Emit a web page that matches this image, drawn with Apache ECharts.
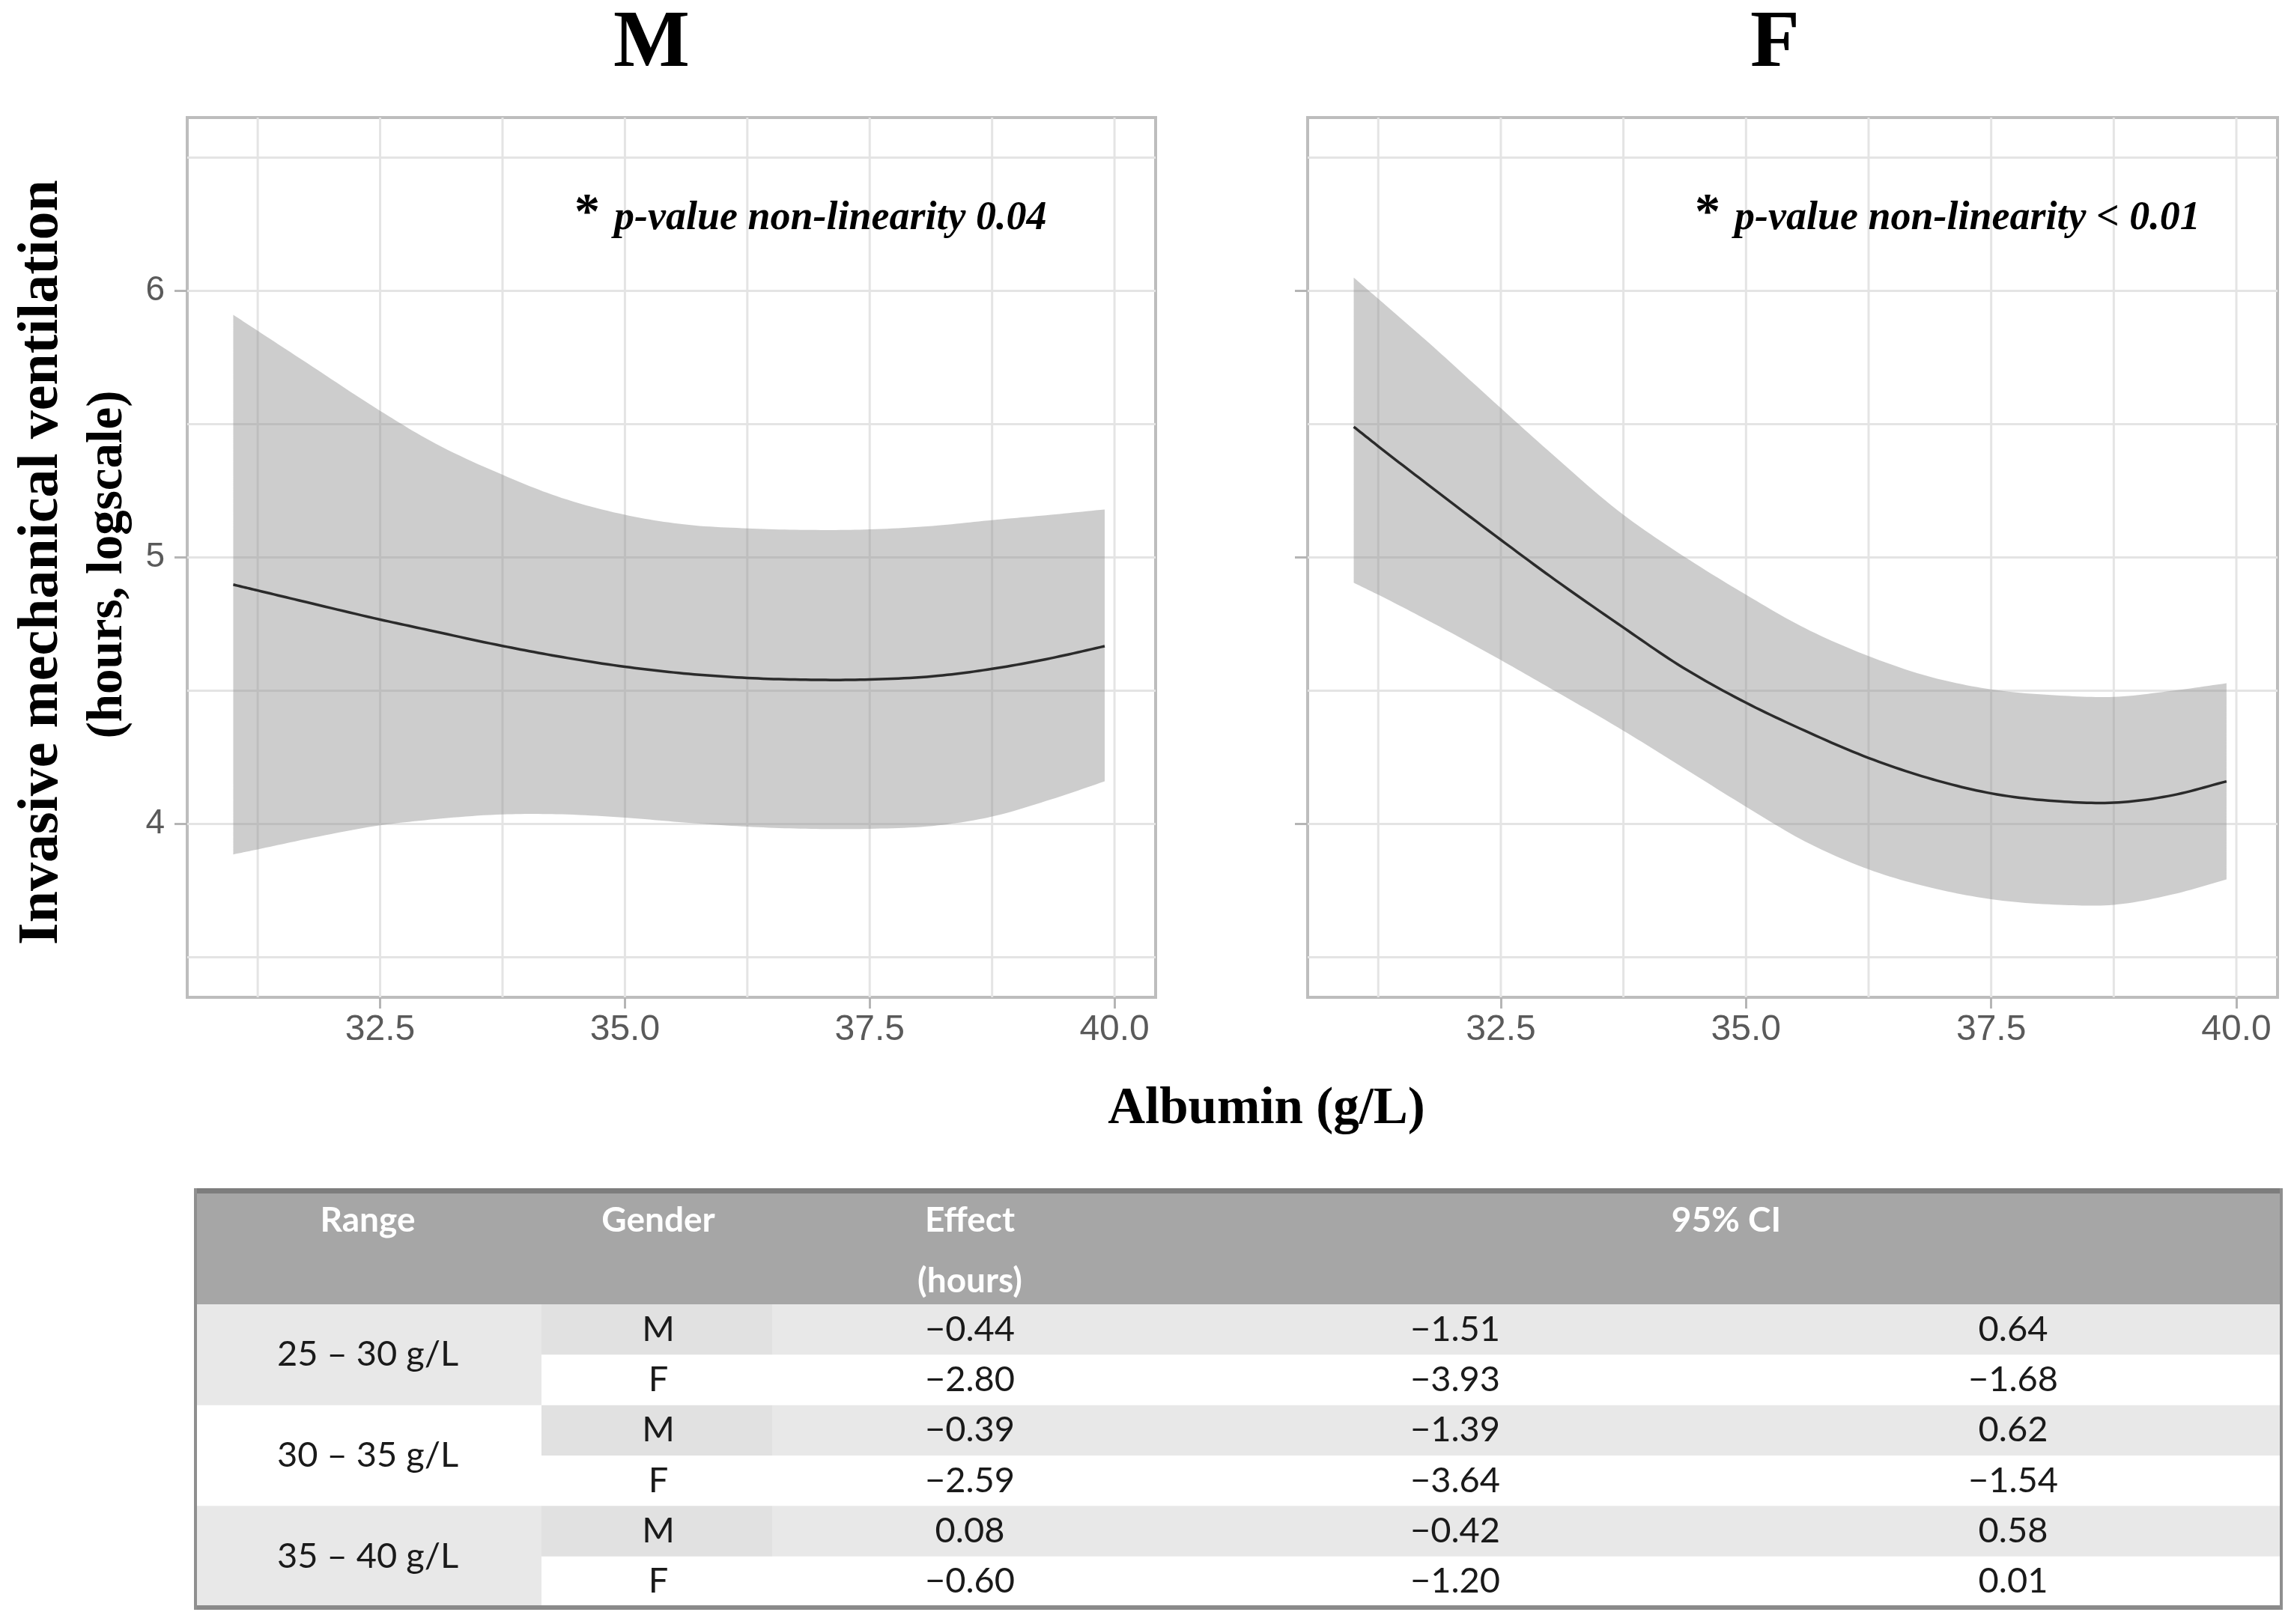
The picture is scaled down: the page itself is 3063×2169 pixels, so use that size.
<!DOCTYPE html>
<html><head><meta charset="utf-8">
<script src="https://cdn.jsdelivr.net/npm/echarts@6/dist/echarts.min.js"></script>
<style>html,body{margin:0;padding:0;background:#fff}#c{width:3063px;height:2169px}</style>
</head><body><div id="c"></div>
<script>
// ---------------- data ----------------
const albumin = [31.0, 31.25, 31.75, 32.5, 33.0, 33.75, 34.3, 35.0, 35.6, 36.25, 36.9, 37.5, 38.2, 38.75, 39.35, 39.9];
const mFit   = [4.898, 4.876, 4.832, 4.767, 4.727, 4.668, 4.630, 4.590, 4.565, 4.548, 4.541, 4.542, 4.556, 4.582, 4.622, 4.667];
const mLower = [3.886, 3.905, 3.944, 3.995, 4.016, 4.036, 4.037, 4.024, 4.006, 3.990, 3.982, 3.982, 3.995, 4.028, 4.092, 4.160];
const mUpper = [5.91, 5.85, 5.73, 5.55, 5.44, 5.31, 5.23, 5.16, 5.124, 5.109, 5.103, 5.105, 5.12, 5.14, 5.16, 5.18];
const fFit   = [5.49, 5.417, 5.275, 5.066, 4.930, 4.737, 4.600, 4.455, 4.350, 4.248, 4.168, 4.115, 4.085, 4.080, 4.108, 4.160];
const fLower = [4.905, 4.86, 4.765, 4.615, 4.51, 4.35, 4.225, 4.065, 3.935, 3.83, 3.76, 3.718, 3.697, 3.697, 3.736, 3.792];
const fUpper = [6.05, 5.97, 5.81, 5.56, 5.395, 5.16, 5.02, 4.86, 4.735, 4.63, 4.55, 4.505, 4.482, 4.477, 4.50, 4.528];

const xTicks = [32.5, 35, 37.5, 40];
const xMinorGrid = [31.25, 33.75, 36.25, 38.75];
const yTicks = [4, 5, 6];
const yMinorGrid = [3.5, 4.5, 5.5, 6.5];

const panelTitles = ['M', 'F'];
const pLabels = ['p-value non-linearity 0.04', 'p-value non-linearity < 0.01'];
const yTitle1 = 'Invasive mechanical ventilation';
const yTitle2 = '(hours, logscale)';
const xTitle = 'Albumin (g/L)';

// table data
const tblHeaders = ['Range', 'Gender', 'Effect', '(hours)', '95% CI'];
const tblRanges = ['25 – 30 g/L', '30 – 35 g/L', '35 – 40 g/L'];
const tblGender = ['M', 'F', 'M', 'F', 'M', 'F'];
const tblEffect = [-0.44, -2.80, -0.39, -2.59, 0.08, -0.60];
const tblCiLow  = [-1.51, -3.93, -1.39, -3.64, -0.42, -1.20];
const tblCiHigh = [0.64, -1.68, 0.62, -1.54, 0.58, 0.01];

// ---------------- layout ----------------
const X_MIN = 30.53, X_MAX = 40.42, Y_MIN = 3.35, Y_MAX = 6.65;
const GRIDS = [{left: 250, top: 157, width: 1293, height: 1175}, {left: 1746, top: 157, width: 1295, height: 1175}];
const SERIF = "'Liberation Serif', 'Times New Roman', serif";
const SANS = "'Liberation Sans', Arial, sans-serif";
const TFONT = "Lato, 'Open Sans', sans-serif";
const BAND = 'rgba(145,145,145,0.45)';
const GRIDCOL = '#e4e4e4';

const chart = echarts.init(document.getElementById('c'), null, {renderer: 'canvas'});

// smooth rendering of a pixel polyline (cubic Hermite in x)
function smoothPx(pts, steps) {
  const n = pts.length, out = [];
  const m = pts.map((p, i) => {
    if (i === 0) return (pts[1][1] - p[1]) / (pts[1][0] - p[0]);
    if (i === n - 1) return (p[1] - pts[i - 1][1]) / (p[0] - pts[i - 1][0]);
    const a = (p[1] - pts[i - 1][1]) / (p[0] - pts[i - 1][0]);
    const b = (pts[i + 1][1] - p[1]) / (pts[i + 1][0] - p[0]);
    const ha = p[0] - pts[i - 1][0], hb = pts[i + 1][0] - p[0];
    return (a * hb + b * ha) / (ha + hb);
  });
  for (let i = 0; i < n - 1; i++) {
    const p = pts[i], q = pts[i + 1], h = q[0] - p[0];
    for (let s = 0; s < steps; s++) {
      const t = s / steps, t2 = t * t, t3 = t2 * t;
      const h00 = 2 * t3 - 3 * t2 + 1, h10 = t3 - 2 * t2 + t, h01 = -2 * t3 + 3 * t2, h11 = t3 - t2;
      out.push([p[0] + t * h, h00 * p[1] + h10 * h * m[i] + h01 * q[1] + h11 * h * m[i + 1]]);
    }
  }
  out.push(pts[n - 1].slice());
  return out;
}

function gridSeries(gi) {
  const data = yMinorGrid.concat(yTicks).map(v => [0, v]).concat(xMinorGrid.concat(xTicks).map(v => [1, v]));
  return {
    type: 'custom', xAxisIndex: gi, yAxisIndex: gi, silent: true, z: 1, clip: false,
    data: data,
    renderItem: (params, api) => {
      const o = api.value(0), v = api.value(1);
      let p1, p2;
      if (o === 0) { p1 = api.coord([X_MIN, v]); p2 = api.coord([X_MAX, v]); }
      else { p1 = api.coord([v, Y_MIN]); p2 = api.coord([v, Y_MAX]); }
      return {type: 'line', shape: {x1: p1[0], y1: p1[1], x2: p2[0], y2: p2[1]},
        style: {stroke: GRIDCOL, lineWidth: 3}};
    }
  };
}
function bandSeries(gi, lower, upper) {
  return {
    type: 'custom', xAxisIndex: gi, yAxisIndex: gi, silent: true, z: 2,
    data: [[albumin[0], lower[0]]],
    renderItem: (params, api) => {
      const up = smoothPx(albumin.map((x, i) => api.coord([x, upper[i]])), 12);
      const lo = smoothPx(albumin.map((x, i) => api.coord([x, lower[i]])), 12);
      return {type: 'polygon', shape: {points: up.concat(lo.reverse())}, style: {fill: BAND}};
    }
  };
}
function lineSeries(gi, fit) {
  return {
    type: 'custom', xAxisIndex: gi, yAxisIndex: gi, silent: true, z: 3,
    data: [[albumin[0], fit[0]]],
    renderItem: (params, api) => {
      const pts = smoothPx(albumin.map((x, i) => api.coord([x, fit[i]])), 12);
      return {type: 'polyline', shape: {points: pts}, style: {stroke: '#2b2b2b', lineWidth: 3.5, fill: null}};
    }
  };
}
function axisX(gi) {
  return {
    type: 'value', gridIndex: gi, min: X_MIN, max: X_MAX,
    axisLine: {show: false}, splitLine: {show: false},
    axisTick: {show: true, customValues: xTicks, length: 15, lineStyle: {color: '#b5b5b5', width: 3}},
    axisLabel: {show: true, customValues: xTicks, formatter: v => Number(v).toFixed(1), margin: 20,
      fontFamily: SANS, fontSize: 48, color: '#5a5a5a'}
  };
}
function axisY(gi) {
  return {
    type: 'value', gridIndex: gi, min: Y_MIN, max: Y_MAX,
    axisLine: {show: false}, splitLine: {show: false},
    axisTick: {show: true, customValues: yTicks, length: 17, lineStyle: {color: '#b5b5b5', width: 3}},
    axisLabel: {show: gi === 0, customValues: yTicks, formatter: v => String(v), margin: 30,
      fontFamily: SANS, fontSize: 46, color: '#5a5a5a'}
  };
}

function txt(text, x, y, font, opts) {
  opts = opts || {};
  return {
    type: 'text', z: 10, silent: true,
    style: {text: text, x: x, y: y, font: font, fill: opts.fill || '#000',
      align: opts.align || 'center', verticalAlign: 'middle',
      textAlign: opts.align || 'center', textVerticalAlign: 'middle'}
  };
}
function rect(x, y, w, h, fill) {
  return {type: 'rect', z: 5, silent: true, shape: {x: x, y: y, width: w, height: h}, style: {fill: fill}};
}
function fmt(v) { return (v < 0 ? '\u2212' : '') + Math.abs(v).toFixed(2); }

// graphic elements
const graphics = [];
graphics.push(txt(panelTitles[0], 870, 60, 'bold 108px ' + SERIF));
graphics.push(txt(panelTitles[1], 2370, 60, 'bold 108px ' + SERIF));
[0, 1].forEach(gi => {
  const gx = GRIDS[gi].left;
  graphics.push(txt('*', gx + 517, 286, 'bold 68px ' + SERIF, {align: 'left'}));
  graphics.push(txt(pLabels[gi], gx + 570, 292, 'italic bold 54px ' + SERIF, {align: 'left'}));
});
graphics.push({type: 'text', z: 10, silent: true, x: 56, y: 751, rotation: Math.PI / 2,
  style: {text: yTitle1, x: 0, y: 0, font: 'bold 76px ' + SERIF, fill: '#000', align: 'center', verticalAlign: 'middle', textAlign: 'center', textVerticalAlign: 'middle'}});
graphics.push({type: 'text', z: 10, silent: true, x: 145, y: 754, rotation: Math.PI / 2,
  style: {text: yTitle2, x: 0, y: 0, font: 'bold 67px ' + SERIF, fill: '#000', align: 'center', verticalAlign: 'middle', textAlign: 'center', textVerticalAlign: 'middle'}});
graphics.push(txt(xTitle, 1691, 1482, 'bold 69px ' + SERIF));

// table
const T = {left: 261, right: 3046, top: 1591, headBottom: 1742, rowH: 67.33, rangeEnd: 723, genderEnd: 1031};
const colX = {range: 491, gender: 879, effect: 1295, low: 1943, high: 2688, ci: 2305};
const tW = T.right - T.left;
graphics.push(rect(T.left, T.top, tW, T.headBottom - T.top, '#a6a6a6'));
graphics.push(rect(T.left, T.top - 4, tW, 7, '#7d7d7d'));
for (let i = 0; i < tblGender.length; i++) {
  const y = T.headBottom + i * T.rowH;
  if (tblGender[i] === 'M') {
    graphics.push(rect(T.genderEnd, y, T.right - T.genderEnd, T.rowH, '#e8e8e8'));
    graphics.push(rect(T.rangeEnd, y, T.genderEnd - T.rangeEnd, T.rowH, '#e1e1e1'));
  }
}
for (let g = 0; g < tblRanges.length; g++) {
  if (g !== 1) graphics.push(rect(T.left, T.headBottom + 2 * g * T.rowH, T.rangeEnd - T.left, 2 * T.rowH, '#e8e8e8'));
}
const tBottom = T.headBottom + 6 * T.rowH;
graphics.push(rect(T.left, tBottom - 2, tW, 6, '#8a8a8a'));
graphics.push(rect(T.left - 2, T.top - 4, 4, tBottom - T.top + 8, '#8f8f8f'));
graphics.push(rect(T.right - 2, T.top - 4, 4, tBottom - T.top + 8, '#8f8f8f'));
const hFont = 'bold 46px ' + TFONT;
graphics.push(txt(tblHeaders[0], colX.range, 1630, hFont, {fill: '#ffffff'}));
graphics.push(txt(tblHeaders[1], colX.gender, 1630, hFont, {fill: '#ffffff'}));
graphics.push(txt(tblHeaders[2], colX.effect, 1630, hFont, {fill: '#ffffff'}));
graphics.push(txt(tblHeaders[3], colX.effect, 1711, hFont, {fill: '#ffffff'}));
graphics.push(txt(tblHeaders[4], colX.ci, 1630, hFont, {fill: '#ffffff'}));
const bFont = '47px ' + TFONT;
for (let g = 0; g < tblRanges.length; g++) {
  graphics.push(txt(tblRanges[g], colX.range, T.headBottom + (2 * g + 1) * T.rowH, bFont, {fill: '#1a1a1a'}));
}
for (let i = 0; i < tblGender.length; i++) {
  const cy = T.headBottom + (i + 0.5) * T.rowH;
  graphics.push(txt(tblGender[i], colX.gender, cy, bFont, {fill: '#1a1a1a'}));
  graphics.push(txt(fmt(tblEffect[i]), colX.effect, cy, bFont, {fill: '#1a1a1a'}));
  graphics.push(txt(fmt(tblCiLow[i]), colX.low, cy, bFont, {fill: '#1a1a1a'}));
  graphics.push(txt(fmt(tblCiHigh[i]), colX.high, cy, bFont, {fill: '#1a1a1a'}));
}

chart.setOption({
  backgroundColor: '#ffffff',
  animation: false,
  grid: GRIDS.map(g => Object.assign({show: true, borderColor: '#bdbdbd', borderWidth: 4, backgroundColor: 'transparent', containLabel: false}, g)),
  xAxis: [axisX(0), axisX(1)],
  yAxis: [axisY(0), axisY(1)],
  series: [
    gridSeries(0), gridSeries(1),
    bandSeries(0, mLower, mUpper), bandSeries(1, fLower, fUpper),
    lineSeries(0, mFit), lineSeries(1, fFit)
  ],
  graphic: {elements: graphics}
});
</script></body></html>
